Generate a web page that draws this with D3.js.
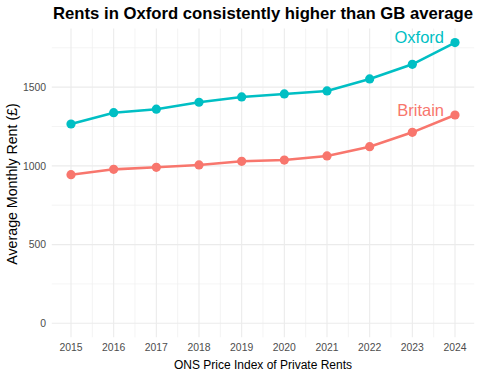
<!DOCTYPE html>
<html>
<head>
<meta charset="utf-8">
<title>Rents in Oxford</title>
<script src="https://cdn.jsdelivr.net/npm/d3@7"></script>
<style>
body { margin: 0; background: #fff; }
text { font-family: "Liberation Sans", Arial, sans-serif; }
.tick-label { fill: #4d4d4d; font-size: 10.4px; }
.grid-major { stroke: #ebebeb; stroke-width: 1.1; }
.grid-minor { stroke: #efefef; stroke-width: 0.7; }
</style>
</head>
<body>
<script>
var years = [2015, 2016, 2017, 2018, 2019, 2020, 2021, 2022, 2023, 2024];
var oxford = [1266, 1338, 1360, 1404, 1438, 1457, 1476, 1552, 1645, 1783];
var britain = [944, 978, 991, 1006, 1029, 1037, 1063, 1122, 1213, 1323];
var yTicks = [0, 500, 1000, 1500];
var yMinor = [250, 750, 1250, 1750];

var series = [
    {name: "Oxford", values: oxford, color: "#00BFC4"},
    {name: "Britain", values: britain, color: "#F8766D"}
];

var width = 480, height = 377;

var x = d3.scaleLinear().domain([2014.55, 2024.45]).range([51.8, 474.2]);
var y = d3.scaleLinear().domain([-89, 1872]).range([337.3, 28.6]);

var svg = d3.select("body").append("svg")
    .attr("width", width)
    .attr("height", height);

// grid
var xMinor = years.slice(0, -1).map(function(d){ return d + 0.5; });

svg.selectAll("line.ym").data(yMinor).enter().append("line")
    .attr("class", "grid-minor")
    .attr("x1", x.range()[0]).attr("x2", x.range()[1])
    .attr("y1", function(d){ return y(d); }).attr("y2", function(d){ return y(d); });

svg.selectAll("line.xm").data(xMinor).enter().append("line")
    .attr("class", "grid-minor")
    .attr("y1", y.range()[0]).attr("y2", y.range()[1])
    .attr("x1", function(d){ return x(d); }).attr("x2", function(d){ return x(d); });

svg.selectAll("line.yM").data(yTicks).enter().append("line")
    .attr("class", "grid-major")
    .attr("x1", x.range()[0]).attr("x2", x.range()[1])
    .attr("y1", function(d){ return y(d); }).attr("y2", function(d){ return y(d); });

svg.selectAll("line.xM").data(years).enter().append("line")
    .attr("class", "grid-major")
    .attr("y1", y.range()[0]).attr("y2", y.range()[1])
    .attr("x1", function(d){ return x(d); }).attr("x2", function(d){ return x(d); });

// tick labels
svg.selectAll("text.yt").data(yTicks).enter().append("text")
    .attr("class", "tick-label")
    .attr("x", 46)
    .attr("y", function(d){ return y(d) + 3.7; })
    .attr("text-anchor", "end")
    .text(function(d){ return d; });

svg.selectAll("text.xt").data(years).enter().append("text")
    .attr("class", "tick-label")
    .attr("x", function(d){ return x(d); })
    .attr("y", 351)
    .attr("text-anchor", "middle")
    .text(function(d){ return d; });

// lines + points
var line = d3.line()
    .x(function(d, i){ return x(years[i]); })
    .y(function(d){ return y(d); });

series.forEach(function(s){
    svg.append("path")
        .attr("d", line(s.values))
        .attr("fill", "none")
        .attr("stroke", s.color)
        .attr("stroke-width", 2.6);

    svg.selectAll(null).data(s.values).enter().append("circle")
        .attr("cx", function(d, i){ return x(years[i]); })
        .attr("cy", function(d){ return y(d); })
        .attr("r", 4.6)
        .attr("fill", s.color);

    var last = s.values.length - 1;
    svg.append("text")
        .attr("x", x(years[last]) - 11)
        .attr("y", y(s.values[last]) + 0.7)
        .attr("text-anchor", "end")
        .attr("font-size", "16.5px")
        .attr("fill", s.color)
        .text(s.name);
});

// titles
svg.append("text")
    .attr("x", 53)
    .attr("y", 19)
    .attr("font-size", "16.7px")
    .attr("font-weight", "bold")
    .attr("fill", "#000")
    .text("Rents in Oxford consistently higher than GB average");

svg.append("text")
    .attr("x", 263)
    .attr("y", 369)
    .attr("text-anchor", "middle")
    .attr("font-size", "12px")
    .attr("fill", "#000")
    .text("ONS Price Index of Private Rents");

svg.append("text")
    .attr("transform", "translate(17," + y(885) + ") rotate(-90)")
    .attr("text-anchor", "middle")
    .attr("font-size", "14.2px")
    .attr("fill", "#000")
    .text("Average Monthly Rent (£)");
</script>
</body>
</html>
